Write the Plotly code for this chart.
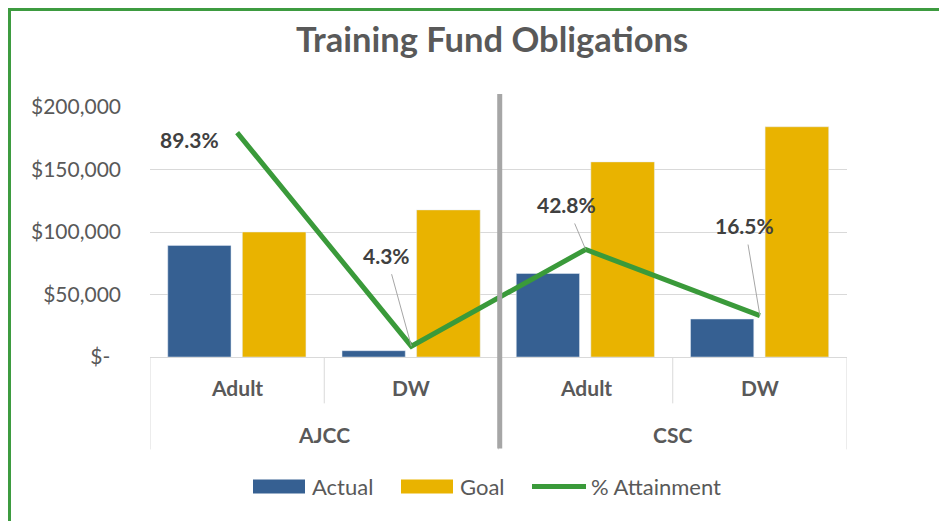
import plotly.graph_objects as go

# ---- data ----
groups = ["AJCC", "AJCC", "CSC", "CSC"]
programs = ["Adult", "DW", "Adult", "DW"]
actual = [89300, 5060, 66800, 30400]
goal = [100000, 117700, 156100, 184200]
attainment = [0.893, 0.043, 0.428, 0.165]
attain_labels = ["89.3%", "4.3%", "42.8%", "16.5%"]
y_tickvals = [0, 50000, 100000, 150000, 200000]
y_ticktext = ["$-\u00a0\u00a0", "$50,000", "$100,000", "$150,000", "$200,000"]
outer_groups = ["AJCC", "CSC"]

BLUE = "#366092"
GOLD = "#E9B300"
GREEN = "#3A9A3A"
TXT = "#595959"
FONT = "Lato"

OFF = 8  # page body margin
W, H = 947 - OFF, 521 - OFF
PL, PR, PT, PB = 150, 847, 107, 356.7   # plot area in screen px
L, R, T, B = PL - OFF, W - (PR - OFF), PT - OFF, H - (PB - OFF)
xpos = list(range(len(programs)))

fig = go.Figure()
fig.add_trace(go.Bar(x=xpos, y=actual, name="Actual", marker_color=BLUE,
                     width=0.363, offset=-0.398, showlegend=False))
fig.add_trace(go.Bar(x=xpos, y=goal, name="Goal", marker_color=GOLD,
                     width=0.365, offset=0.030, showlegend=False))
fig.add_trace(go.Scatter(x=xpos, y=attainment, name="% Attainment", yaxis="y2",
                         mode="lines", line=dict(color=GREEN, width=5),
                         showlegend=False))


def py(sy):
    """screen y px -> paper y"""
    return (PB - sy) / (PB - PT)


def px(sx):
    """screen x px -> paper x"""
    return (sx - PL) / (PR - PL)


fig.update_layout(
    width=W, height=H,
    margin=dict(l=L, r=R, t=T, b=B),
    paper_bgcolor="white", plot_bgcolor="white",
    font=dict(family=FONT, color=TXT),
    title=dict(text="<b>Training Fund Obligations</b>", x=(492 - OFF) / W, xanchor="center",
               y=1 - (40 - OFF) / H, yanchor="middle",
               font=dict(family=FONT, size=34.5, color=TXT)),
    xaxis=dict(range=[-0.5, 3.5], showticklabels=False, showgrid=False,
               zeroline=False, showline=True, linecolor="#D9D9D9", linewidth=1,
               fixedrange=True),
    yaxis=dict(range=[0, 200000], tickvals=y_tickvals, ticktext=y_ticktext,
               showgrid=True, gridcolor="#D9D9D9", gridwidth=1, zeroline=False,
               tickfont=dict(family=FONT, size=21, color=TXT),
               ticklabelstandoff=28, ticks=""),
    yaxis2=dict(range=[0, 0.995], overlaying="y", side="right", visible=False),
    showlegend=False,
)

shapes = []
# inner dividers
for xv in [0.5, 2.5]:
    shapes.append(dict(type="line", xref="x", yref="paper", x0=xv, x1=xv,
                       y0=0, y1=py(403), line=dict(color="#D9D9D9", width=1)))
# outer dividers
for xv in [-0.5, 1.5, 3.5]:
    shapes.append(dict(type="line", xref="x", yref="paper", x0=xv, x1=xv,
                       y0=0, y1=py(449), line=dict(color="#D9D9D9", width=1)))
# thick gray separator
shapes.append(dict(type="line", xref="x", yref="paper", x0=1.507, x1=1.507,
                   y0=py(94), y1=py(448),
                   line=dict(color="#A6A6A6", width=5)))
# outer green frame
shapes.append(dict(type="rect", xref="paper", yref="paper",
                   x0=px(9.5), x1=px(960),
                   y0=py(540), y1=py(9.5),
                   line=dict(color="#3D9B40", width=3), fillcolor="rgba(0,0,0,0)"))

# custom legend
leg_y = 486
shapes.append(dict(type="rect", xref="paper", yref="paper",
                   x0=px(253), x1=px(305), y0=py(493), y1=py(479),
                   fillcolor=BLUE, line=dict(width=0)))
shapes.append(dict(type="rect", xref="paper", yref="paper",
                   x0=px(401), x1=px(453), y0=py(493), y1=py(479),
                   fillcolor=GOLD, line=dict(width=0)))
shapes.append(dict(type="line", xref="paper", yref="paper",
                   x0=px(532), x1=px(586), y0=py(leg_y), y1=py(leg_y),
                   line=dict(color=GREEN, width=5)))
fig.update_layout(shapes=shapes)

ann = []
for i, p in enumerate(programs):
    ann.append(dict(x=i, y=py(387), xref="x", yref="paper", text=f"<b>{p}</b>",
                    showarrow=False, yanchor="middle",
                    font=dict(family=FONT, size=21, color=TXT)))
for j, g in enumerate(outer_groups):
    ann.append(dict(x=2 * j + 0.5, y=py(434), xref="x", yref="paper",
                    text=f"<b>{g}</b>", showarrow=False, yanchor="middle",
                    font=dict(family=FONT, size=21, color=TXT)))

label_offsets = [(-48, 7), (-25, -91), (-19, -45), (-15, -90)]
for i, (lab, (ax, ay)) in enumerate(zip(attain_labels, label_offsets)):
    if i == 0:
        ann.append(dict(x=i, y=attainment[i], xref="x", yref="y2", text=f"<b>{lab}</b>",
                        showarrow=False, xshift=ax, yshift=-ay,
                        font=dict(family=FONT, size=21, color="#404040")))
    else:
        ann.append(dict(x=i, y=attainment[i], xref="x", yref="y2", text=f"<b>{lab}</b>",
                        showarrow=True, ax=ax, ay=ay, arrowhead=0, arrowwidth=1,
                        arrowcolor="#A6A6A6", borderpad=6,
                        font=dict(family=FONT, size=21, color="#404040")))

leg_items = [("Actual", 310), ("Goal", 458), ("% Attainment", 589)]
for txt, xp in leg_items:
    ann.append(dict(x=px(xp), y=py(leg_y), xref="paper", yref="paper",
                    text=txt, showarrow=False, xanchor="left", yanchor="middle",
                    font=dict(family=FONT, size=22, color=TXT)))
fig.update_layout(annotations=ann)

fig.write_html("out.html")
